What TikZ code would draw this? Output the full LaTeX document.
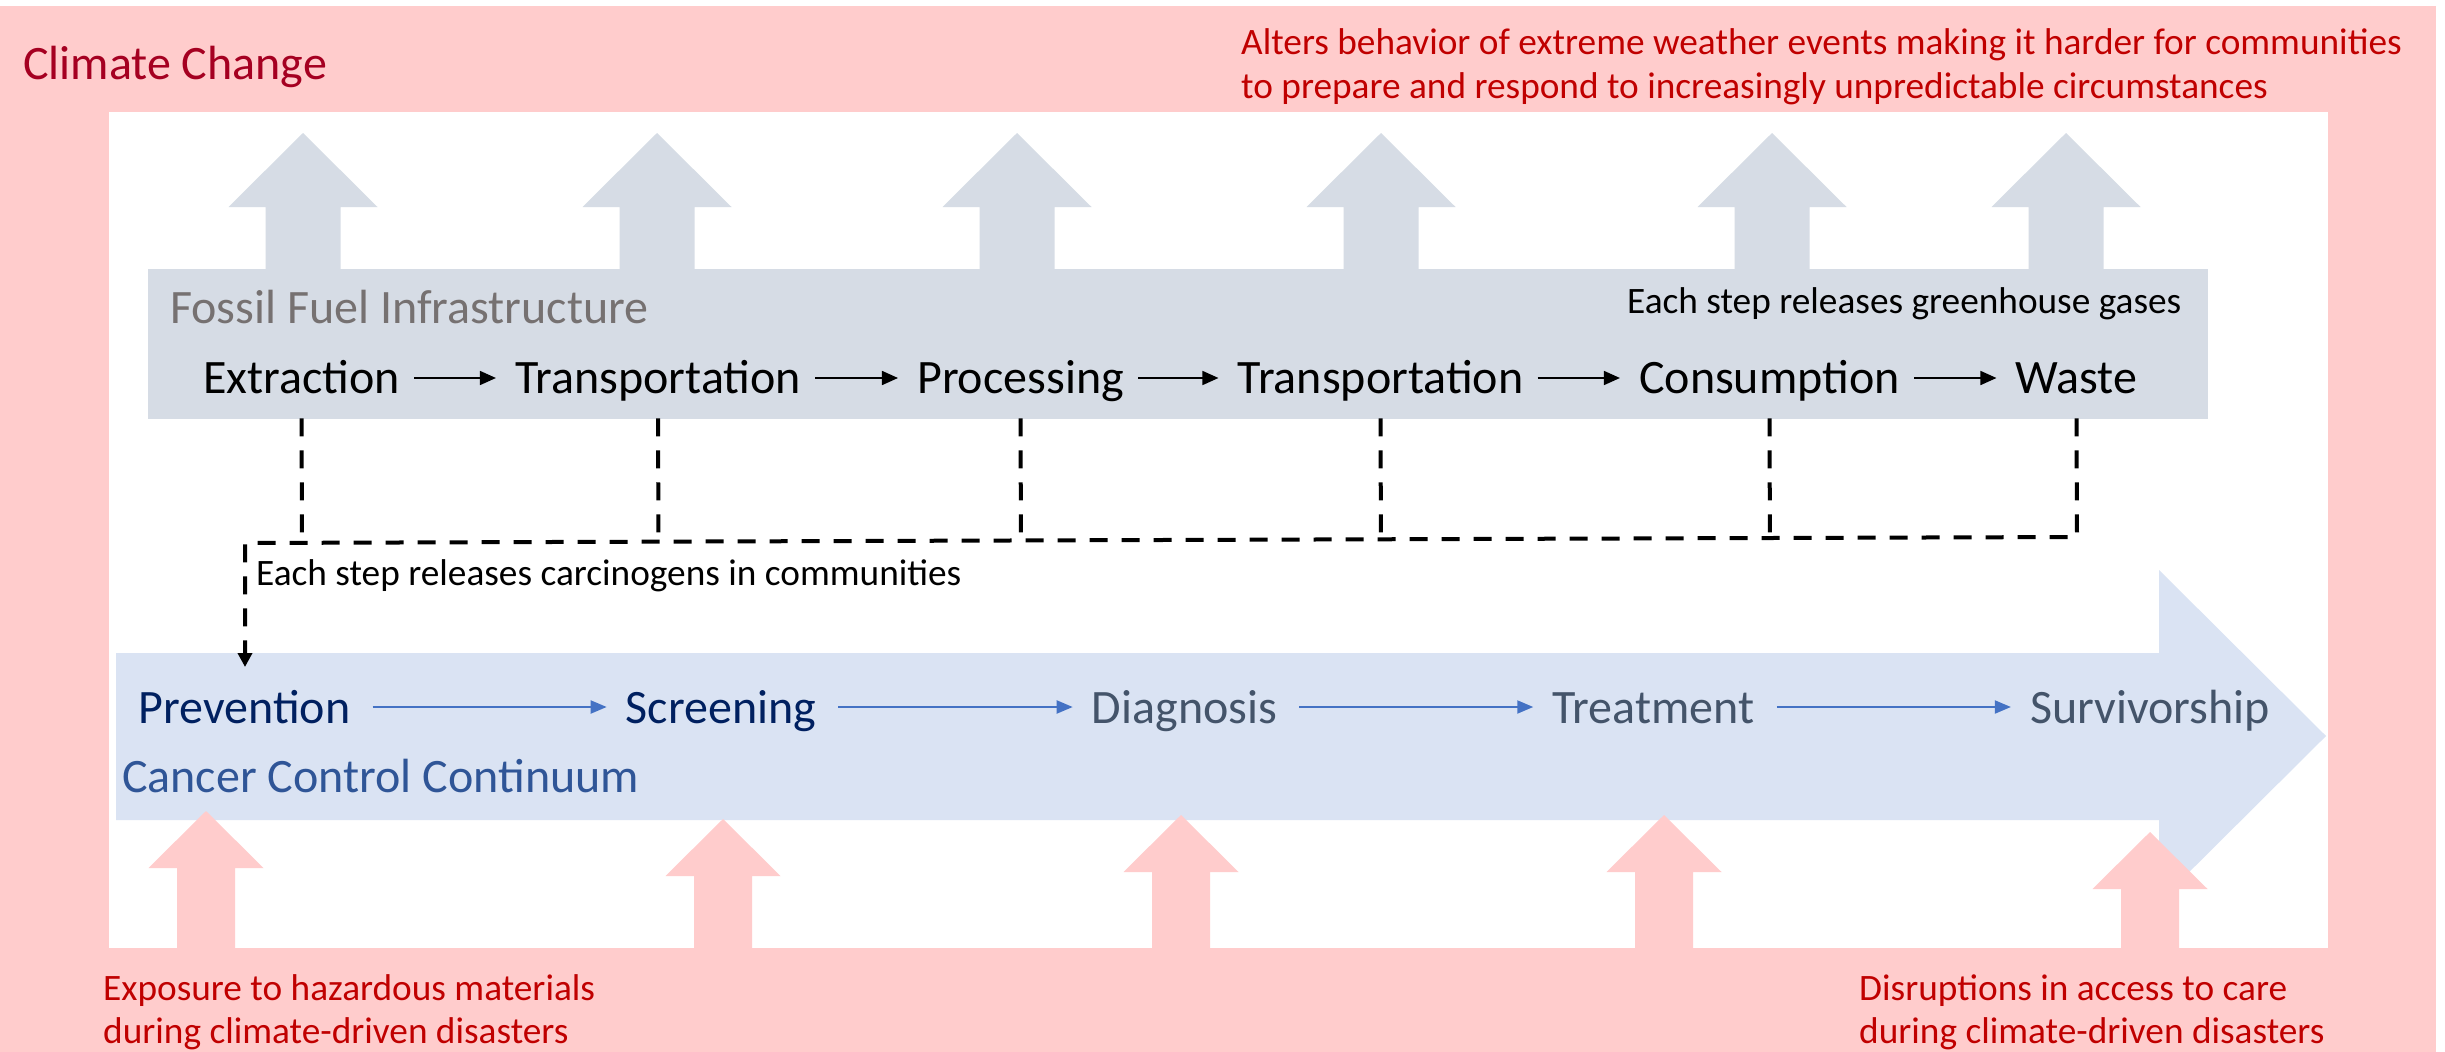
\documentclass[tikz,border=0pt]{standalone}
\usepackage{fontspec}
\setmainfont{Carlito}
\usetikzlibrary{arrows.meta,calc}
\definecolor{pinkbg}{HTML}{FFCCCC}
\definecolor{grayfill}{HTML}{D6DCE5}
\definecolor{bluefill}{HTML}{DAE3F3}
\definecolor{darkredtxt}{HTML}{A50021}
\definecolor{redtxt}{HTML}{C00000}
\definecolor{navytxt}{HTML}{002060}
\definecolor{slatetxt}{HTML}{44546A}
\definecolor{ccctxt}{HTML}{2F5597}
\definecolor{arrowblue}{HTML}{4472C4}
\definecolor{fossiltxt}{HTML}{767171}
\newcommand\fatarrowup[7]{% colour, cx, tip y, head-base y, bottom y, head half, shaft half
  \fill[#1] (#2,#3) -- (#2+#6,#4) -- (#2+#7,#4) -- (#2+#7,#5) -- (#2-#7,#5) -- (#2-#7,#4) -- (#2-#6,#4) -- cycle;}
\begin{document}
\begin{tikzpicture}[x=1pt,y=-1pt,
  lbl/.style={inner sep=0pt, anchor=base west},
  bigfont/.style={font=\fontsize{48}{52}\selectfont},
  smallfont/.style={font=\fontsize{37.3}{40}\selectfont},
  stepword/.style={inner sep=0pt, anchor=base, bigfont},
  steparrow/.style={line width=1.6pt, -{Triangle[length=16pt,width=14pt]}, shorten <=14pt, shorten >=19pt},
  carearrow/.style={line width=2pt, arrowblue, -{Triangle[length=16pt,width=13pt]}, shorten <=22pt, shorten >=19pt},
  dashln/.style={line width=4pt, dash pattern=on 18pt off 14pt},
]
% canvas
\fill[white] (0,0) rectangle (2445,1052);
\fill[pinkbg] (0,6) rectangle (2436,1052);
\fill[white] (109,112) rectangle (2328,948);

% grey up arrows (greenhouse gases)
\foreach \cx in {303,657,1017,1381,1772,2066}{
  \fatarrowup{grayfill}{\cx}{133}{207}{272}{74.5}{37.5}
}

% fossil fuel box
\node[fill=grayfill, inner sep=0pt, minimum width=2060pt, minimum height=150pt, anchor=north west] (fossil) at (148,269) {};

% cancer control continuum arrow
\fill[bluefill] (116,653) -- (2159,653) -- (2159,570) -- (2326,736) -- (2159,902) -- (2159,820) -- (116,820) -- cycle;

% pink up arrows (disasters)
\fatarrowup{pinkbg}{206}{811}{868}{950}{57.5}{29}
\fatarrowup{pinkbg}{723}{819}{876}{950}{57.5}{29}
\fatarrowup{pinkbg}{1181}{815}{872}{950}{57.5}{29}
\fatarrowup{pinkbg}{1664}{815}{872}{950}{57.5}{29}
\fatarrowup{pinkbg}{2150}{832}{889}{950}{57.5}{29}

% texts in pink frame
\node[lbl, bigfont, text=darkredtxt] (climate) at (23,79) {Climate Change};
\node[lbl, smallfont, text=redtxt] (alters1) at (1241,54) {Alters behavior of extreme weather events making it harder for communities};
\node[lbl, smallfont, text=redtxt] (alters2) at (1241,98) {to prepare and respond to increasingly unpredictable circumstances};
\node[lbl, smallfont, text=redtxt] (expo1) at (103,1000) {Exposure to hazardous materials};
\node[lbl, smallfont, text=redtxt] (expo2) at (103,1043) {during climate-driven disasters};
\node[lbl, smallfont, text=redtxt] (disr1) at (1859,1000) {Disruptions in access to care};
\node[lbl, smallfont, text=redtxt] (disr2) at (1859,1043) {during climate-driven disasters};

% fossil fuel texts
\node[lbl, bigfont, text=fossiltxt] (fossillbl) at (170,323) {Fossil Fuel Infrastructure};
\node[lbl, smallfont] (ghg) at (1627,313) {Each step releases greenhouse gases};
\node[stepword] (ext) at (301.5,393) {Extraction};
\node[stepword] (traA) at (658,393) {Transportation};
\node[stepword] (proc) at (1020.5,393) {Processing};
\node[stepword] (traB) at (1380.5,393) {Transportation};
\node[stepword] (cons) at (1769.5,393) {Consumption};
\node[stepword] (waste) at (2076.5,393) {Waste};
\draw[steparrow] ([yshift=15pt]ext.base east) -- ([yshift=15pt]traA.base west);
\draw[steparrow] ([yshift=15pt]traA.base east) -- ([yshift=15pt]proc.base west);
\draw[steparrow] ([yshift=15pt]proc.base east) -- ([yshift=15pt]traB.base west);
\draw[steparrow] ([yshift=15pt]traB.base east) -- ([yshift=15pt]cons.base west);
\draw[steparrow] ([yshift=15pt]cons.base east) -- ([yshift=15pt]waste.base west);

% cancer control continuum texts
\node[stepword, text=navytxt] (prev) at (244.5,723) {Prevention};
\node[stepword, text=navytxt] (scr) at (721,723) {Screening};
\node[stepword, text=slatetxt] (diag) at (1184.5,723) {Diagnosis};
\node[stepword, text=slatetxt] (treat) at (1653.5,723) {Treatment};
\node[stepword, text=slatetxt] (surv) at (2150,723) {Survivorship};
\node[lbl, bigfont, text=ccctxt] (ccclbl) at (122,792) {Cancer Control Continuum};
\draw[carearrow] ([yshift=16pt]prev.base east) -- ([yshift=16pt]scr.base west);
\draw[carearrow] ([yshift=16pt]scr.base east) -- ([yshift=16pt]diag.base west);
\draw[carearrow] ([yshift=16pt]diag.base east) -- ([yshift=16pt]treat.base west);
\draw[carearrow] ([yshift=16pt]treat.base east) -- ([yshift=16pt]surv.base west);

% carcinogen dashed connectors
\coordinate (hlL) at (245,543);
\coordinate (hlR) at (2077,537);
\coordinate (preventry) at (245,667);
\foreach \n in {ext,traA,proc,traB,cons}{
  \draw[dashln] ([yshift=1pt]\n.base |- fossil.south) -- ($(hlL)!(\n.base)!(hlR)$);
}
\draw[dashln, -{Triangle[length=14pt,width=14pt]}] ([yshift=1pt]waste.base |- fossil.south) -- (hlR) -- (hlL) -- (preventry);
\node[lbl, smallfont] (carc) at (256,585) {Each step releases carcinogens in communities};
\end{tikzpicture}
\end{document}
